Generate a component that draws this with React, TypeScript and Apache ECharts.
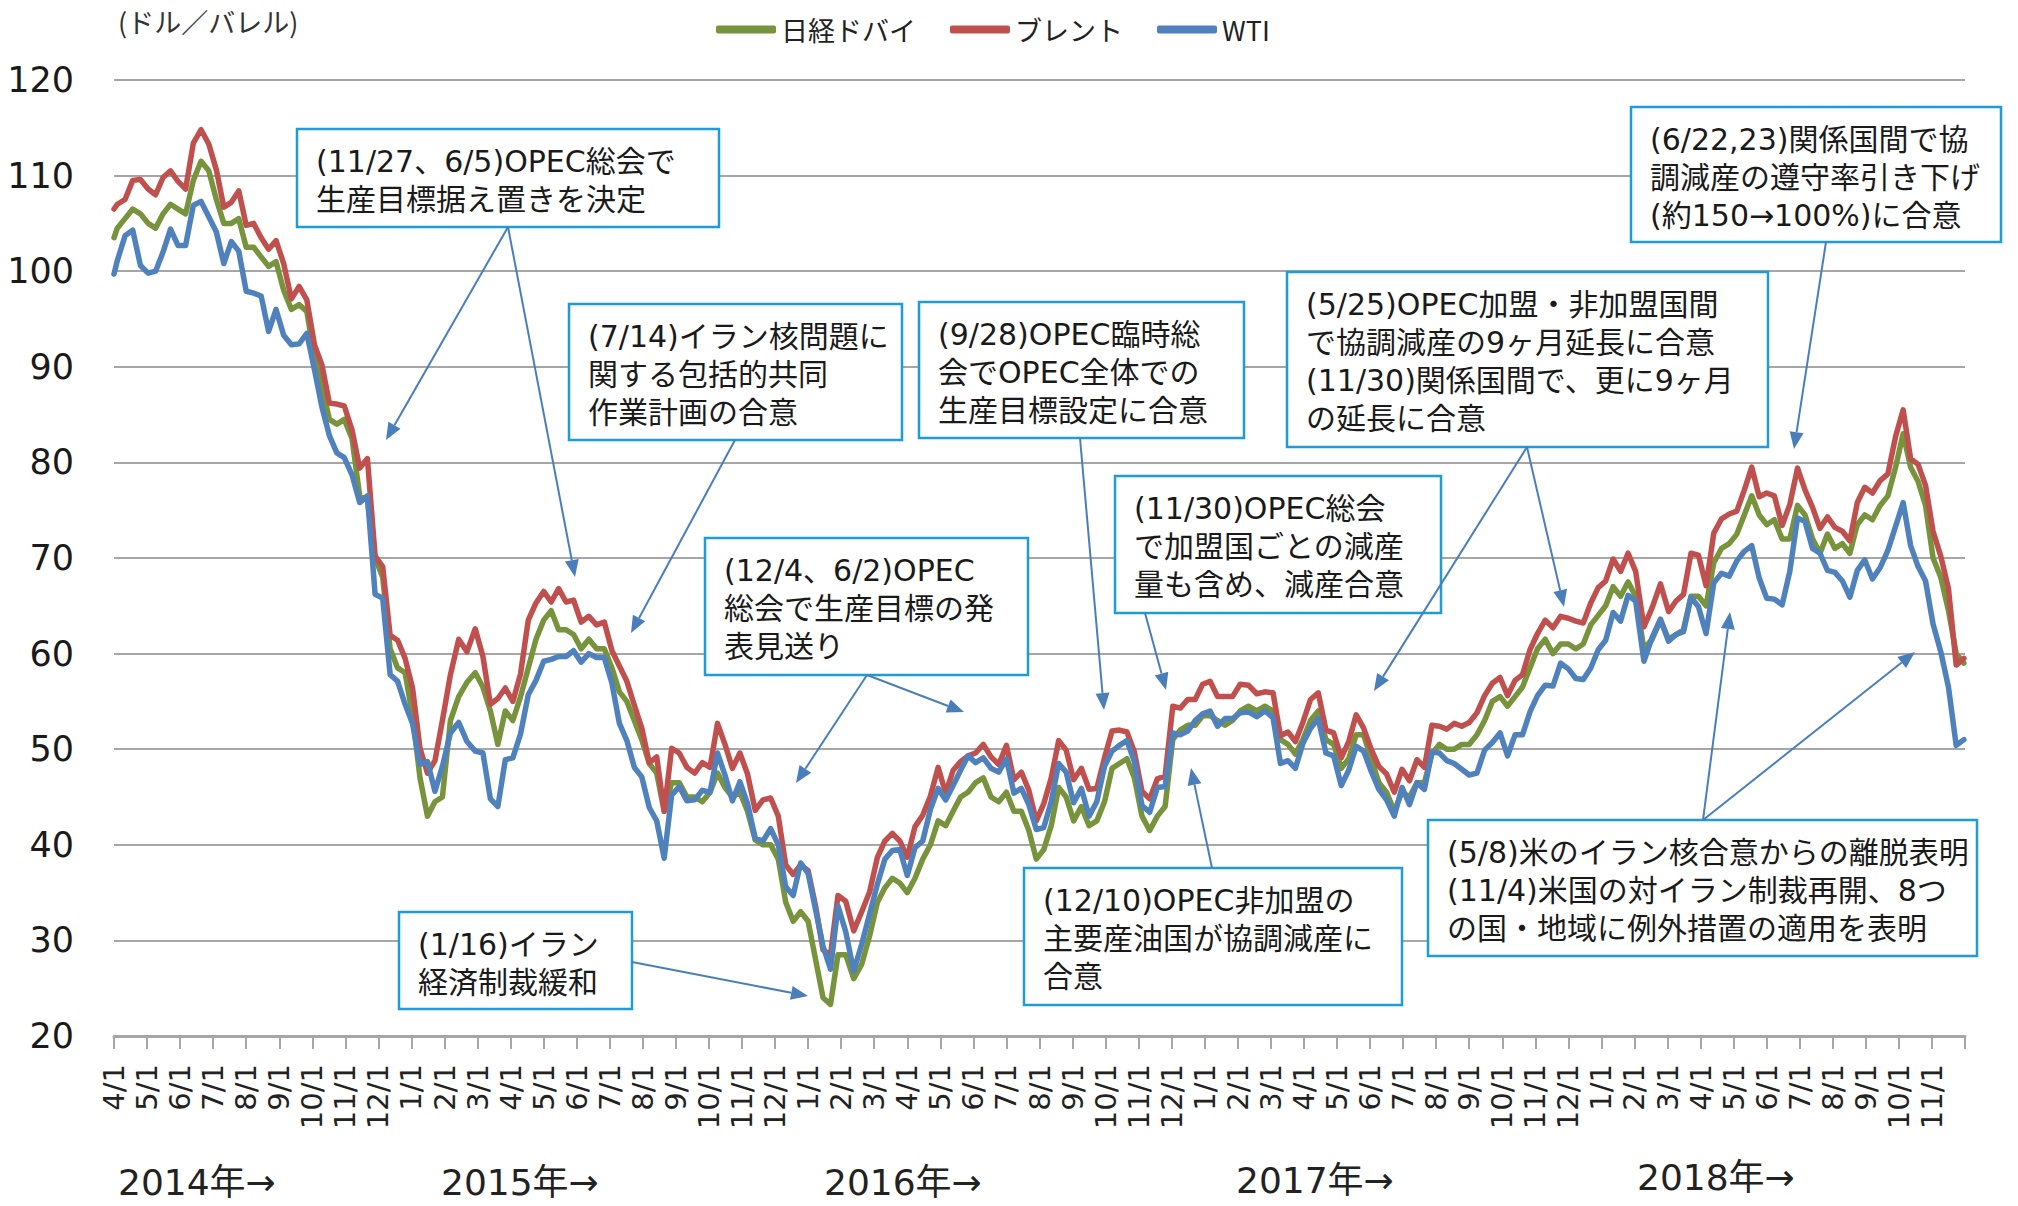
import React, { useEffect, useRef } from "react";
import * as echarts from "echarts";

// ---------- data (weekly readings, US$/bbl) ----------
const seriesNames = ["日経ドバイ", "ブレント", "WTI"];
const seriesColors = ["#77933C", "#C0504D", "#4F81BD"];

// readings: 2014-04-01, then every Friday from 2014-04-04 to 2018-11-30
const dubai2014 = [103.5,
  104.5, 105.5, 106.5, 106.0,
  105.0, 104.5, 106.0, 107.0, 106.5,
  106.0, 109.5, 111.5, 110.5,
  107.5, 105.0, 105.0, 105.5,
  102.5, 102.5, 101.5, 100.5, 101.0,
  98.0, 96.0, 96.5, 95.8,
  91.0, 88.0, 84.5, 84.0, 84.5,
  82.5, 76.5, 76.0, 70.0,
  68.0, 60.5, 58.5, 58.0];
const dubai2015 = [53.5, 47.0, 43.0, 44.5, 45.0,
  53.0, 55.5, 57.0, 58.0,
  56.5, 54.0, 50.5, 54.0,
  53.0, 55.5, 58.5, 61.5,
  63.5, 64.5, 62.5, 62.5, 62.0,
  60.5, 61.5, 60.5, 60.5,
  58.5, 56.0, 55.0, 53.0, 51.0,
  48.5, 47.5, 43.5, 46.5,
  46.5, 45.0, 45.0, 44.5,
  45.5, 47.5, 46.0, 45.0, 45.5,
  43.5, 40.5, 40.0, 40.0,
  38.5, 34.0, 32.0, 33.0];
const dubai2016 = [32.0, 28.0, 24.0, 23.3, 28.5,
  28.5, 26.0, 27.5, 30.5,
  34.0, 35.5, 36.5, 36.0,
  35.0, 36.5, 38.5, 40.0, 42.5,
  42.0, 43.5, 45.0, 45.5,
  46.5, 47.0, 45.0, 44.5,
  45.5, 43.5, 43.5, 41.5, 38.5,
  39.5, 42.0, 46.0, 45.0,
  42.5, 44.0, 42.0, 42.5, 44.5,
  48.0, 48.5, 49.0, 47.0,
  43.0, 41.5, 43.0, 44.0,
  51.0, 52.0, 52.5, 52.5, 53.5];
const dubai2017 = [53.5, 53.0, 52.5, 53.0,
  54.0, 54.5, 54.0, 54.5,
  54.0, 51.0, 50.5, 49.5, 51.0,
  53.0, 54.0, 51.0, 50.5,
  48.0, 49.0, 51.5, 51.5,
  49.0, 46.5, 45.5, 43.5, 45.5,
  45.0, 46.5, 46.5, 49.5,
  50.5, 50.0, 50.0, 50.5,
  50.5, 51.5, 53.0, 55.0, 55.5,
  54.5, 55.5, 56.5, 58.5,
  60.5, 61.5, 60.0, 61.0,
  61.0, 60.5, 61.0, 63.0, 64.0];
const dubai2018 = [65.0, 67.0, 66.0, 67.5,
  66.0, 60.5, 61.5, 63.5,
  61.5, 62.0, 62.5, 66.0, 66.0,
  65.0, 69.5, 71.0, 71.5,
  72.5, 74.5, 76.5, 74.5,
  73.5, 74.0, 72.0, 72.0, 75.5,
  74.5, 72.0, 70.5, 72.5,
  71.0, 71.5, 70.5, 73.5, 74.5,
  74.0, 75.5, 76.5, 79.5,
  83.0, 79.5, 78.0, 75.5,
  70.0, 68.0, 64.5, 60.0, 59.0];

const brent2014 = [106.5,
  107.0, 107.5, 109.5, 109.6,
  108.6, 108.0, 109.8, 110.5, 109.4,
  108.6, 113.4, 114.8, 113.3,
  110.6, 106.7, 107.2, 108.4,
  104.8, 105.0, 103.5, 102.3, 103.2,
  100.8, 97.1, 98.4, 97.0,
  92.3, 90.2, 86.2, 86.1, 85.9,
  83.4, 79.4, 80.4, 70.2,
  69.1, 61.9, 61.4, 59.5];
const brent2015 = [56.4, 50.1, 47.5, 48.8, 53.0,
  57.8, 61.5, 60.2, 62.6,
  59.7, 54.7, 55.3, 56.4,
  55.0, 57.9, 63.5, 65.3,
  66.5, 65.4, 66.8, 65.4, 65.6,
  63.3, 63.9, 63.0, 63.3,
  60.3, 58.7, 57.1, 54.6, 52.2,
  48.6, 49.2, 43.5, 50.1,
  49.6, 48.1, 47.5, 48.6,
  48.1, 52.7, 50.5, 48.0, 49.6,
  47.4, 43.6, 44.7, 44.9,
  43.0, 37.9, 36.9, 37.9];
const brent2016 = [37.3, 33.6, 29.0, 28.5, 34.7,
  34.1, 31.0, 33.0, 35.1,
  38.7, 40.4, 41.2, 40.4,
  38.7, 41.9, 43.1, 45.1, 48.1,
  45.4, 47.8, 48.7, 49.3,
  49.6, 50.5, 49.2, 48.4,
  50.4, 46.8, 47.6, 45.7, 42.5,
  44.3, 47.0, 50.9, 49.9,
  46.8, 48.0, 45.8, 45.9, 49.1,
  51.9, 52.0, 51.8, 49.7,
  45.6, 44.8, 46.9, 47.2,
  54.5, 54.3, 55.2, 55.2, 56.8];
const brent2017 = [57.1, 55.5, 55.5, 55.5,
  56.8, 56.7, 55.8, 56.0,
  55.9, 51.4, 51.8, 50.8, 52.8,
  55.2, 55.9, 52.0, 51.7,
  49.1, 50.8, 53.6, 52.2,
  50.0, 48.2, 47.4, 45.5, 47.9,
  46.7, 48.9, 48.1, 52.5,
  52.4, 52.1, 52.7, 52.4,
  52.8, 53.8, 55.6, 56.9, 57.5,
  55.6, 57.2, 57.8, 60.4,
  62.1, 63.5, 62.7, 63.9,
  63.7, 63.4, 63.2, 65.3, 66.9];
const brent2018 = [67.6, 69.9, 68.6, 70.5,
  68.6, 62.8, 64.8, 67.3,
  64.4, 65.5, 66.2, 70.5, 70.3,
  67.1, 72.6, 74.1, 74.6,
  74.9, 77.1, 79.5, 76.4,
  76.8, 76.5, 73.4, 75.6, 79.4,
  77.1, 75.3, 73.1, 74.3,
  73.2, 72.8, 71.8, 75.8, 77.4,
  76.8, 78.1, 78.8, 82.7,
  85.5, 80.4, 79.8, 77.6,
  72.8, 70.2, 66.8, 58.8, 59.5];

const wti2014 = [99.7,
  101.1, 103.7, 104.3, 100.6,
  99.8, 100.0, 102.0, 104.4, 102.7,
  102.7, 106.9, 107.3, 105.7,
  104.1, 100.8, 103.1, 102.1,
  97.9, 97.7, 97.4, 93.7, 96.0,
  93.3, 92.3, 92.4, 93.5,
  89.7, 85.8, 82.8, 81.0, 80.5,
  78.7, 75.8, 76.5, 66.2,
  65.8, 57.8, 57.1, 54.7];
const wti2015 = [52.7, 48.4, 48.7, 45.6, 48.2,
  51.7, 52.8, 50.8, 49.8,
  49.6, 44.8, 44.0, 48.9,
  49.1, 51.6, 55.7, 57.2,
  59.2, 59.4, 59.7, 59.7, 60.3,
  59.1, 60.0, 59.6, 59.6,
  56.9, 52.7, 50.9, 48.1, 47.1,
  43.9, 42.5, 38.6, 45.2,
  46.1, 44.6, 44.7, 45.7,
  45.5, 49.6, 47.3, 44.6, 46.6,
  44.3, 40.7, 40.4, 41.7,
  40.0, 35.6, 34.7, 38.1];
const wti2016 = [37.0, 33.2, 29.4, 27.0, 33.6,
  30.9, 26.8, 29.6, 32.8,
  35.9, 38.5, 39.4, 39.5,
  36.8, 39.7, 40.4, 43.7, 45.9,
  44.7, 46.2, 47.8, 49.3,
  48.6, 49.1, 48.0, 47.6,
  49.0, 45.4, 45.9, 44.2, 41.6,
  41.8, 44.5, 48.5, 47.6,
  44.4, 45.9, 43.0, 44.5, 48.2,
  49.8, 50.4, 50.9, 48.7,
  44.1, 43.4, 46.0, 46.1,
  51.7, 51.5, 51.9, 53.0, 53.7];
const wti2017 = [54.0, 52.4, 53.2, 53.2,
  53.8, 53.9, 53.4, 54.0,
  53.3, 48.5, 48.8, 48.0, 50.6,
  52.2, 53.2, 49.6, 49.3,
  46.2, 47.8, 50.3, 49.8,
  47.7, 45.8, 44.7, 43.0, 46.0,
  44.2, 46.5, 45.8, 49.7,
  49.6, 48.8, 48.5, 47.9,
  47.3, 47.5, 49.9, 50.7, 51.7,
  49.3, 51.5, 51.5, 53.9,
  55.6, 56.7, 56.6, 59.0,
  58.4, 57.4, 57.3, 58.5, 60.4];
const wti2018 = [61.4, 64.3, 63.4, 66.1,
  65.5, 59.2, 61.7, 63.6,
  61.3, 62.0, 62.3, 65.9, 64.9,
  62.1, 67.4, 68.4, 68.1,
  69.7, 70.7, 71.3, 67.9,
  65.8, 65.7, 65.1, 68.6, 74.2,
  73.8, 71.0, 70.5, 68.7,
  68.5, 67.6, 65.9, 68.7, 69.8,
  67.8, 69.0, 70.8, 73.3,
  75.8, 71.3, 69.1, 67.6,
  63.1, 60.2, 56.5, 50.4, 51.0];

const dubai = [...dubai2014, ...dubai2015, ...dubai2016, ...dubai2017, ...dubai2018];
const brent = [...brent2014, ...brent2015, ...brent2016, ...brent2017, ...brent2018];
const wti = [...wti2014, ...wti2015, ...wti2016, ...wti2017, ...wti2018];

const tickLabels = [
  "4/1", "5/1", "6/1", "7/1", "8/1", "9/1", "10/1", "11/1", "12/1",
  "1/1", "2/1", "3/1", "4/1", "5/1", "6/1", "7/1", "8/1", "9/1", "10/1", "11/1", "12/1",
  "1/1", "2/1", "3/1", "4/1", "5/1", "6/1", "7/1", "8/1", "9/1", "10/1", "11/1", "12/1",
  "1/1", "2/1", "3/1", "4/1", "5/1", "6/1", "7/1", "8/1", "9/1", "10/1", "11/1", "12/1",
  "1/1", "2/1", "3/1", "4/1", "5/1", "6/1", "7/1", "8/1", "9/1", "10/1", "11/1", "",
];
const yearLabels = ["2014年→", "2015年→", "2016年→", "2017年→", "2018年→"];
const unitLabel = "(ドル／バレル)";

const noteTexts = [
  ["(11/27、6/5)OPEC総会で", "生産目標据え置きを決定"],
  ["(7/14)イラン核問題に", "関する包括的共同", "作業計画の合意"],
  ["(12/4、6/2)OPEC", "総会で生産目標の発", "表見送り"],
  ["(1/16)イラン", "経済制裁緩和"],
  ["(9/28)OPEC臨時総", "会でOPEC全体での", "生産目標設定に合意"],
  ["(11/30)OPEC総会", "で加盟国ごとの減産", "量も含め、減産合意"],
  ["(12/10)OPEC非加盟の", "主要産油国が協調減産に", "合意"],
  ["(5/25)OPEC加盟・非加盟国間", "で協調減産の9ヶ月延長に合意", "(11/30)関係国間で、更に9ヶ月", "の延長に合意"],
  ["(6/22,23)関係国間で協", "調減産の遵守率引き下げ", "(約150→100%)に合意"],
  ["(5/8)米のイラン核合意からの離脱表明", "(11/4)米国の対イラン制裁再開、8つ", "の国・地域に例外措置の適用を表明"],
];

// ---------- layout (pixels) ----------
const noteLayout = [
  { box: [297, 129, 422, 98], from: [508, 227], to: [[386, 440], [575, 577]] },
  { box: [569, 304, 333, 136], from: [735, 440], to: [[631, 633]] },
  { box: [705, 538, 323, 137], from: [867, 675], to: [[796, 783], [964, 712]] },
  { box: [399, 912, 233, 97], from: [632, 962], to: [[808, 996]] },
  { box: [919, 302, 325, 136], from: [1080, 438], to: [[1104, 710]] },
  { box: [1115, 476, 326, 137], from: [1145, 613], to: [[1166, 690]] },
  { box: [1024, 868, 378, 137], from: [1212, 868], to: [[1191, 768]] },
  { box: [1287, 272, 481, 175], from: [1527, 447], to: [[1374, 691], [1564, 607]] },
  { box: [1631, 107, 370, 135], from: [1826, 242], to: [[1794, 449]] },
  { box: [1428, 820, 549, 136], from: [1703, 820], to: [[1730, 612], [1915, 652]] },
];
const yearPos = [[118, 1182], [441, 1182], [824, 1182], [1236, 1180], [1637, 1177]];

// ---------- helpers ----------
function readingDates(): Date[] {
  const out = [new Date(Date.UTC(2014, 3, 1))];
  for (let i = 0; i < 244; i++) out.push(new Date(Date.UTC(2014, 3, 4 + 7 * i)));
  return out;
}
function monthPos(d: Date): number {
  const y = d.getUTCFullYear(), m = d.getUTCMonth(), day = d.getUTCDate();
  const dim = new Date(Date.UTC(y, m + 1, 0)).getUTCDate();
  return (y - 2014) * 12 + (m - 3) + (day - 1) / dim;
}

const ANNOT_FONT = '30px "DejaVu Sans", "Noto Sans CJK JP", sans-serif';
const ARROW_COLOR = "#4A7EBB";

function arrowEls(from: number[], to: number[]) {
  const dx = to[0] - from[0], dy = to[1] - from[1];
  const L = Math.hypot(dx, dy);
  const ux = dx / L, uy = dy / L;
  const len = 17, half = 7;
  const bx = to[0] - ux * len, by = to[1] - uy * len;
  const nx = -uy, ny = ux;
  return [
    { type: "line", z: 102, shape: { x1: from[0], y1: from[1], x2: bx, y2: by }, style: { stroke: ARROW_COLOR, lineWidth: 2 } },
    { type: "polygon", z: 102, shape: { points: [[to[0], to[1]], [bx + nx * half, by + ny * half], [bx - nx * half, by - ny * half]] }, style: { fill: ARROW_COLOR } },
  ];
}

function buildGraphics() {
  const els: any[] = [];
  els.push({
    type: "text", x: 118, y: 21, z: 100,
    style: { text: unitLabel, font: '27px "Noto Sans CJK JP", sans-serif', fill: "#333", align: "left", textAlign: "left", verticalAlign: "middle", textVerticalAlign: "middle" },
  });
  yearLabels.forEach((t, i) => {
    els.push({
      type: "text", x: yearPos[i][0], y: yearPos[i][1], z: 100,
      style: { text: t, font: '36px "DejaVu Sans", "Noto Sans CJK JP", sans-serif', fill: "#222", align: "left", textAlign: "left", verticalAlign: "middle", textVerticalAlign: "middle" },
    });
  });
  noteTexts.forEach((lines, i) => {
    const L = noteLayout[i];
    const [x, y, w, h] = L.box;
    L.to.forEach((t) => els.push(...arrowEls(L.from, t)));
    els.push({ type: "rect", z: 100, shape: { x, y, width: w, height: h }, style: { fill: "#fff", stroke: "#1C9CD8", lineWidth: 2.5 } });
    els.push({
      type: "text", x: x + 19, y: y + 13, z: 101,
      style: { text: lines.join("\n"), font: ANNOT_FONT, fill: "#1a1a1a", lineHeight: 38, align: "left", textAlign: "left", verticalAlign: "top", textVerticalAlign: "top" },
    });
  });
  return els;
}

export default function App() {
  const ref = useRef<HTMLDivElement>(null);
  useEffect(() => {
    const chart = echarts.init(ref.current!, null, { renderer: "svg" });
    const xs = readingDates().map(monthPos);
    const values = [dubai, brent, wti];
    chart.setOption({
      animation: false,
      backgroundColor: "#fff",
      legend: {
        left: 711, top: 11, itemWidth: 60, itemHeight: 8, itemGap: 34, icon: "roundRect",
        data: seriesNames,
        textStyle: { fontSize: 27, fontFamily: '"Noto Sans CJK JP", sans-serif', color: "#222" },
      },
      grid: { left: 114, right: 53, top: 80, bottom: 170 },
      xAxis: {
        type: "value", min: 0, max: 56, interval: 1,
        axisLine: { show: true, onZero: false, lineStyle: { color: "#A6A6A6", width: 3 } },
        axisTick: { show: true, length: 13, lineStyle: { color: "#A6A6A6", width: 2 } },
        splitLine: { show: false },
        axisLabel: {
          rotate: 90, margin: 28, fontSize: 29, fontFamily: '"DejaVu Sans", sans-serif', color: "#222",
          formatter: (v: number) => tickLabels[Math.round(v)] ?? "",
        },
      },
      yAxis: {
        type: "value", min: 20, max: 120, interval: 10,
        axisLine: { show: false }, axisTick: { show: false },
        splitLine: { lineStyle: { color: "#A6A6A6", width: 2 } },
        axisLabel: { margin: 40, fontSize: 35, fontFamily: '"DejaVu Sans", sans-serif', color: "#1a1a1a" },
      },
      series: seriesNames.map((name, k) => ({
        name, type: "line", showSymbol: false, symbol: "none",
        data: xs.map((x, i) => [x, values[k][i]]),
        lineStyle: { width: 5.5, color: seriesColors[k], cap: "round", join: "round" },
        itemStyle: { color: seriesColors[k] },
      })),
      graphic: buildGraphics(),
    });
    return () => chart.dispose();
  }, []);
  return (
    <div
      ref={ref}
      style={{ position: "fixed", left: 0, top: 0, width: 2018, height: 1206, background: "#fff" }}
    />
  );
}
